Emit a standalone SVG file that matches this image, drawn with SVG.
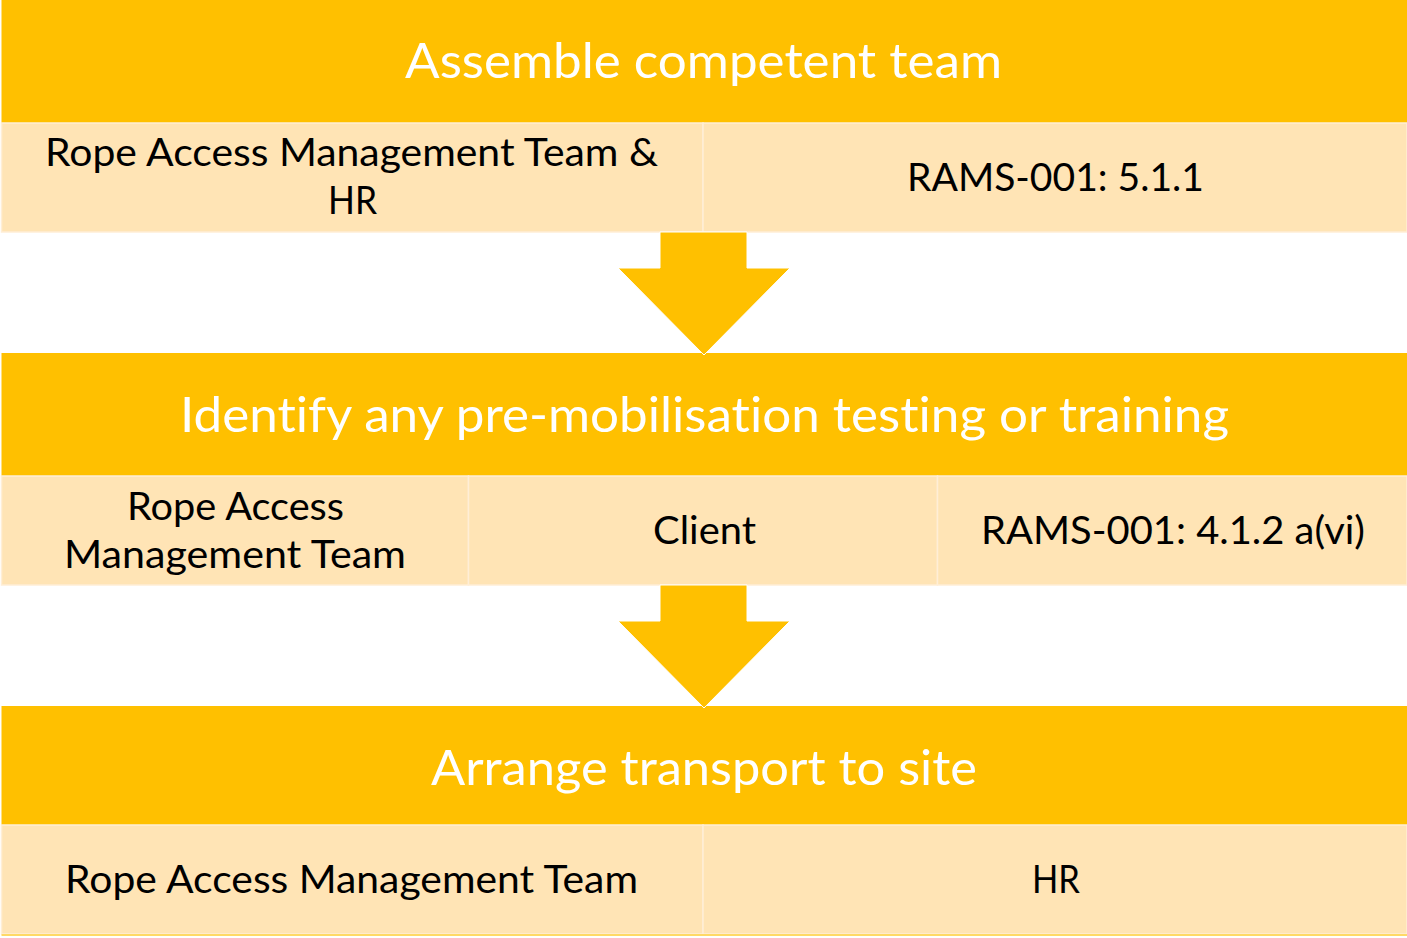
<svg xmlns="http://www.w3.org/2000/svg" width="1407" height="938" viewBox="0 0 1407 938">
  <style>
    .hdr { fill: #FFC000; }
    .cell { fill: #FFE4B5; stroke: #FFEED6; stroke-width: 1.5; }
    .ht { font-family: Lato, "Open Sans", "Liberation Sans", sans-serif; font-size: 48.5px; fill: #FFFFFF; font-variant-ligatures: none; font-feature-settings: "liga" 0, "clig" 0, "dlig" 0, "calt" 0; }
    .ct { font-family: Lato, "Open Sans", "Liberation Sans", sans-serif; font-size: 38.6px; fill: #000000; font-variant-ligatures: none; font-feature-settings: "liga" 0, "clig" 0, "dlig" 0, "calt" 0; }
    .arrow { fill: #FFC000; stroke: #FFFFFF; stroke-width: 1; }
  </style>
  <rect x="0" y="0" width="1407" height="938" fill="#FFFFFF"/>

  <g id="step1">
    <rect class="hdr" x="1.5" y="0" width="1405.5" height="123"/>
    <text class="ht" x="405" y="78" textLength="597" lengthAdjust="spacingAndGlyphs">Assemble competent team</text>
  </g>
  <g id="step1-owner">
    <rect class="cell" x="1.5" y="123" width="701.5" height="109"/>
    <text class="ct" x="45" y="166" textLength="613" lengthAdjust="spacingAndGlyphs">Rope Access Management Team &amp;</text>
    <text class="ct" x="328" y="214" textLength="49" lengthAdjust="spacingAndGlyphs">HR</text>
  </g>
  <g id="step1-ref">
    <rect class="cell" x="703" y="123" width="704" height="109"/>
    <text class="ct" x="907" y="191" textLength="297" lengthAdjust="spacingAndGlyphs">RAMS-001: 5.1.1</text>
  </g>

  <g id="step2">
    <rect class="hdr" x="1.5" y="353" width="1405.5" height="123"/>
    <text class="ht" x="180" y="432" textLength="1049" lengthAdjust="spacingAndGlyphs">Identify any pre-mobilisation testing or training</text>
  </g>
  <g id="step2-owner">
    <rect class="cell" x="1.5" y="476" width="467" height="109"/>
    <text class="ct" x="127" y="520" textLength="217" lengthAdjust="spacingAndGlyphs">Rope Access</text>
    <text class="ct" x="64" y="568" textLength="342" lengthAdjust="spacingAndGlyphs">Management Team</text>
  </g>
  <g id="step2-party">
    <rect class="cell" x="468.5" y="476" width="469" height="109"/>
    <text class="ct" x="653" y="544" textLength="103" lengthAdjust="spacingAndGlyphs">Client</text>
  </g>
  <g id="step2-ref">
    <rect class="cell" x="937.5" y="476" width="469.5" height="109"/>
    <text class="ct" x="981" y="544" textLength="384" lengthAdjust="spacingAndGlyphs">RAMS-001: 4.1.2 a(vi)</text>
  </g>

  <g id="step3">
    <rect class="hdr" x="1.5" y="706" width="1405.5" height="119"/>
    <text class="ht" x="431" y="785" textLength="546" lengthAdjust="spacingAndGlyphs">Arrange transport to site</text>
  </g>
  <g id="step3-owner">
    <rect class="cell" x="1.5" y="825" width="701.5" height="109"/>
    <text class="ct" x="65" y="893" textLength="573" lengthAdjust="spacingAndGlyphs">Rope Access Management Team</text>
  </g>
  <g id="step3-party">
    <rect class="cell" x="703" y="825" width="704" height="109"/>
    <text class="ct" x="1032" y="893" textLength="48" lengthAdjust="spacingAndGlyphs">HR</text>
  </g>
  <rect x="1.5" y="934" width="1405.5" height="2" fill="#FFD966"/>

  <g id="connectors">
    <polygon class="arrow" points="660,232 747,232 747,268 790,268 704,355 618,268 660,268"/>
    <polygon class="arrow" points="660,585 747,585 747,621 790,621 704,708 618,621 660,621"/>
  </g>
</svg>
